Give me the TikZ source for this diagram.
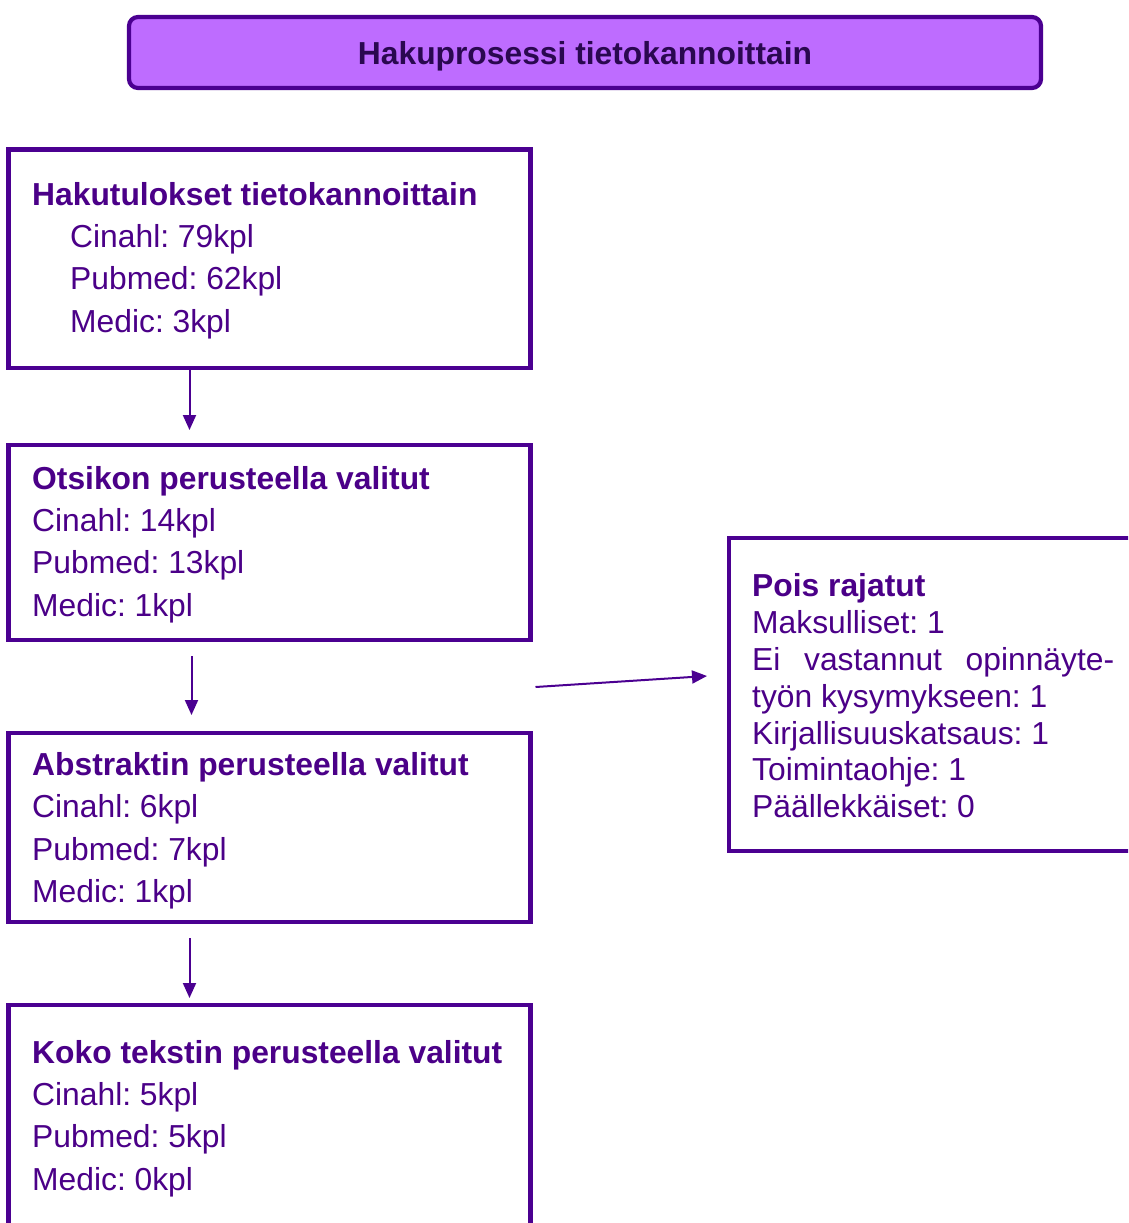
\documentclass[tikz,border=0pt]{standalone}
\usepackage{fontspec}
\setmainfont{Liberation Sans}
\usetikzlibrary{arrows.meta,calc}
\definecolor{pline}{HTML}{4B0091}
\definecolor{ptext}{HTML}{4B0088}
\definecolor{tfill}{HTML}{BE6CFF}
\definecolor{ttext}{HTML}{2A0850}
\tikzset{
  box/.style={draw=pline, line width=4.6pt, fill=white, rectangle, anchor=north west, inner sep=0pt, outer sep=0pt},
  txt/.style={text=ptext, anchor=base west, inner sep=0pt, font=\fontsize{31.8}{38}\selectfont},
  arr/.style={draw=pline, line width=2pt, -{Triangle[length=15pt,width=13pt]}},
}
\begin{document}
\frenchspacing
\begin{tikzpicture}[x=1pt,y=-1pt]
\clip (0,0) rectangle (1128,1223);
\fill[white] (0,0) rectangle (1128,1223);
% title
\node[draw=pline, line width=4.2pt, fill=tfill, rounded corners=9pt, minimum width=912, minimum height=71, inner sep=0pt, outer sep=0pt, text height=24.5pt, text depth=0pt] (title) at (585,52.5)
  {\fontsize{31.8}{38}\selectfont\bfseries\color{ttext}Hakuprosessi tietokannoittain};
% boxes
\node[box, minimum width=522, minimum height=218.5] (b1) at (8.5,149.5) {};
\node[box, minimum width=522, minimum height=195] (b2) at (8.5,445) {};
\node[box, minimum width=522, minimum height=189] (b3) at (8.5,733) {};
\node[box, minimum width=522, minimum height=260] (b4) at (8.5,1005) {};
\node[box, minimum width=420, minimum height=313] (b5) at (729,538) {};
% texts box1
\node[txt] (h1) at (32,205) {\bfseries Hakutulokset tietokannoittain};
\node[txt] (h1a) at (70,247) {Cinahl: 79kpl};
\node[txt] (h1b) at (70,289) {Pubmed: 62kpl};
\node[txt] (h1c) at (70,332) {Medic: 3kpl};
% box2
\node[txt] (h2) at (32,489) {\bfseries Otsikon perusteella valitut};
\node[txt] (h2a) at (32,531) {Cinahl: 14kpl};
\node[txt] (h2b) at (32,573) {Pubmed: 13kpl};
\node[txt] (h2c) at (32,616) {Medic: 1kpl};
% box3
\node[txt] (h3) at (32,775) {\bfseries Abstraktin perusteella valitut};
\node[txt] (h3a) at (32,817) {Cinahl: 6kpl};
\node[txt] (h3b) at (32,860) {Pubmed: 7kpl};
\node[txt] (h3c) at (32,902) {Medic: 1kpl};
% box4
\node[txt] (h4) at (32,1063) {\bfseries Koko tekstin perusteella valitut};
\node[txt] (h4a) at (32,1105) {Cinahl: 5kpl};
\node[txt] (h4b) at (32,1147) {Pubmed: 5kpl};
\node[txt] (h4c) at (32,1190) {Medic: 0kpl};
% box5
\node[txt] (h5) at (752,596) {\bfseries Pois rajatut};
\node[txt] (h5a) at (752,633) {Maksulliset: 1};
\node[txt] (h5b) at (752,670) {\hbox to 362pt{Ei\hfill vastannut\hfill opinnäyte-}};
\node[txt] (h5c) at (752,707) {työn kysymykseen: 1};
\node[txt] (h5d) at (752,744) {Kirjallisuuskatsaus: 1};
\node[txt] (h5e) at (752,780) {Toimintaohje: 1};
\node[txt] (h5f) at (752,817) {Päällekkäiset: 0};
% arrows
\draw[arr] ($(b1.south west)+(181,2)$) -- ($(b2.north west)+(181,-15)$);
\draw[arr] ($(b2.south west)+(183,16)$) -- ($(b3.north west)+(183,-18)$);
\draw[arr] ($(b3.south west)+(181,16)$) -- ($(b4.north west)+(181,-7)$);
\draw[arr] ($(b2.south east)+(5,47)$) -- ($(b5.west)+(-22,-18.5)$);
\end{tikzpicture}
\end{document}
